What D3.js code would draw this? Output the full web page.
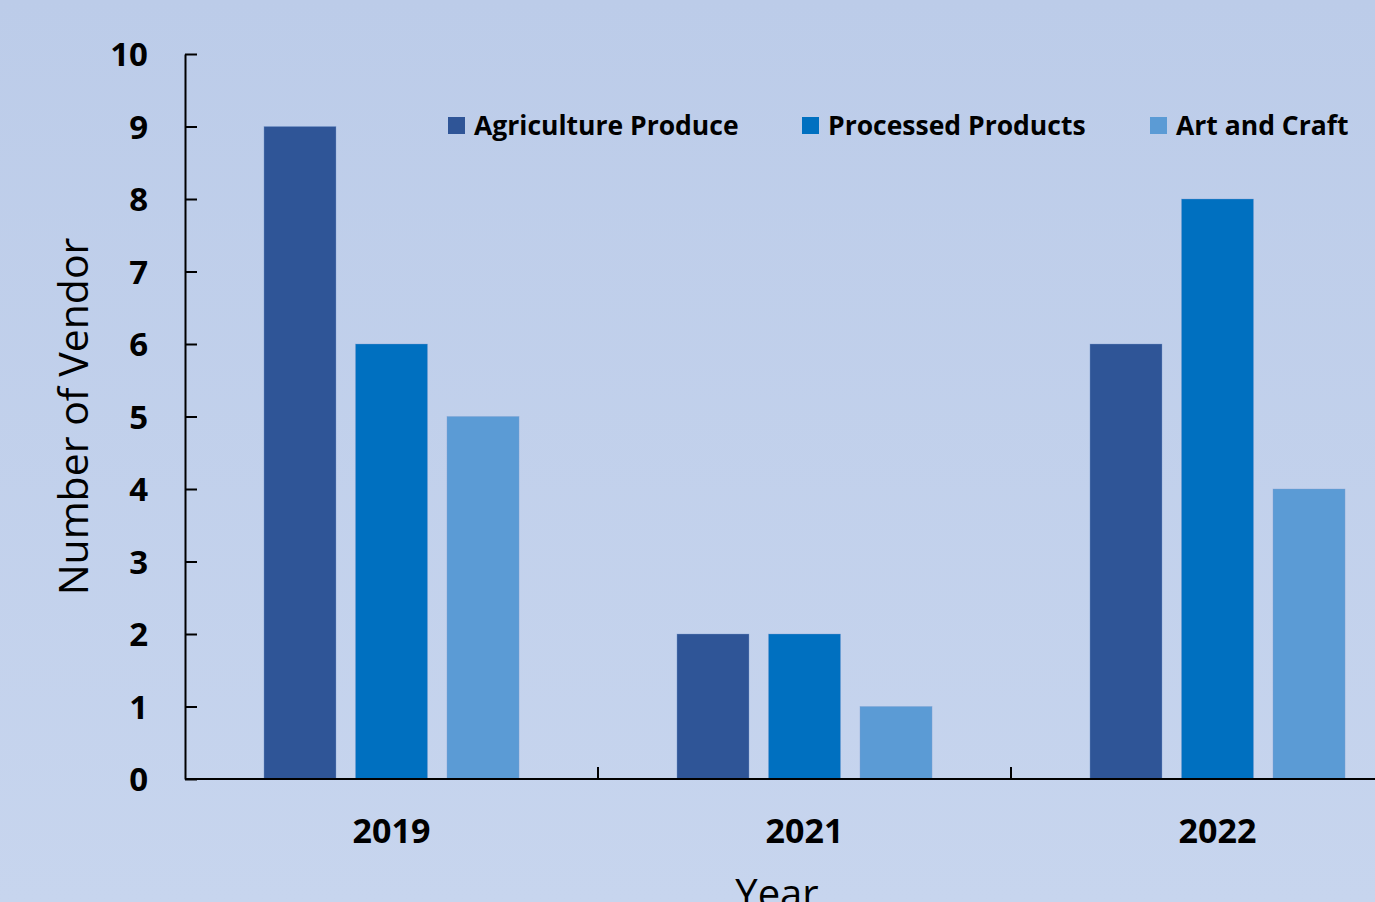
<!DOCTYPE html>
<html>
<head>
<meta charset="utf-8">
<script src="https://cdn.jsdelivr.net/npm/d3@7"></script>
<style>
  body {margin: 0; overflow: hidden;}
  text {font-family: "Open Sans", sans-serif; fill: #000;}
  .tick text {font-weight: 700; font-size: 33px;}
</style>
</head>
<body>
<script>
  // data
  var years = ["2019", "2021", "2022"];
  var series = ["Agriculture Produce", "Processed Products", "Art and Craft"];
  var agriculture = [9, 2, 6];
  var processed = [6, 2, 8];
  var artCraft = [5, 1, 4];
  var colors = ["#2F5597", "#0070C0", "#5B9BD5"];
  var yTicks = [0, 1, 2, 3, 4, 5, 6, 7, 8, 9, 10];

  var width = 1375, height = 902;
  var margin = {left: 185, right: 1424, top: 54, bottom: 779};

  var svg = d3.select("body").append("svg")
    .attr("width", width)
    .attr("height", height);

  // background gradient
  var grad = svg.append("defs").append("linearGradient")
    .attr("id", "bg").attr("x1", 0).attr("y1", 0).attr("x2", 0).attr("y2", 1);
  grad.append("stop").attr("offset", "0%").attr("stop-color", "#bccce9");
  grad.append("stop").attr("offset", "100%").attr("stop-color", "#c7d5ee");
  svg.append("rect").attr("width", width).attr("height", height).attr("fill", "url(#bg)");

  var x0 = d3.scaleBand().domain(years).range([margin.left, margin.right]);
  var x1 = d3.scaleBand().domain(series).range([0, x0.bandwidth()])
    .paddingInner(0.213).paddingOuter(0.863);
  var y = d3.scaleLinear().domain([0, 10]).range([margin.bottom, margin.top]);

  var values = [agriculture, processed, artCraft];
  var rows = [];
  years.forEach(function (yr, i) {
    series.forEach(function (s, j) {
      rows.push({year: yr, series: s, value: values[j][i], color: colors[j]});
    });
  });

  // bars
  svg.append("g").selectAll("rect").data(rows).enter().append("rect")
    .attr("x", function (d) { return x0(d.year) + x1(d.series); })
    .attr("y", function (d) { return y(d.value); })
    .attr("width", x1.bandwidth())
    .attr("height", function (d) { return margin.bottom - y(d.value); })
    .attr("fill", function (d) { return d.color; })
    .attr("stroke", "#7f9fd0").attr("stroke-width", 0.6).attr("stroke-opacity", 0.6);

  // y axis
  var yAxis = d3.axisLeft(y).tickValues(yTicks).tickSizeInner(-12).tickSizeOuter(0).tickPadding(37);
  var gy = svg.append("g").attr("transform", "translate(" + margin.left + ",0)").call(yAxis);
  gy.selectAll("line, path").attr("stroke", "#000").attr("stroke-width", 2);
  gy.selectAll("text").attr("dy", "0.36em");

  // x axis
  var gx = svg.append("g");
  gx.append("line").attr("x1", margin.left).attr("x2", width).attr("y1", margin.bottom).attr("y2", margin.bottom)
    .attr("stroke", "#000").attr("stroke-width", 2);
  gx.selectAll(".xt").data(years.slice(1)).enter().append("line")
    .attr("x1", function (d) { return x0(d); }).attr("x2", function (d) { return x0(d); })
    .attr("y1", margin.bottom).attr("y2", margin.bottom - 12)
    .attr("stroke", "#000").attr("stroke-width", 2);
  gx.selectAll(".xl").data(years).enter().append("text")
    .attr("x", function (d) { return x0(d) + x0.bandwidth() / 2; })
    .attr("y", 843)
    .attr("text-anchor", "middle")
    .style("font-weight", 700).style("font-size", "34px")
    .text(function (d) { return d; });

  // axis titles
  svg.append("text")
    .attr("transform", "translate(88," + ((margin.top + margin.bottom) / 2) + ") rotate(-90)")
    .attr("text-anchor", "middle")
    .style("font-size", "41px")
    .text("Number of Vendor");
  svg.append("text")
    .attr("x", 777).attr("y", 908)
    .attr("text-anchor", "middle")
    .style("font-size", "40px")
    .text("Year");

  // legend
  var legendX = [448, 802, 1150];
  var lg = svg.append("g").selectAll("g").data(series).enter().append("g")
    .attr("transform", function (d, i) { return "translate(" + legendX[i] + ",117)"; });
  lg.append("rect").attr("width", 17).attr("height", 17)
    .attr("fill", function (d, i) { return colors[i]; });
  lg.append("text").attr("x", 26).attr("y", 18)
    .style("font-weight", 700).style("font-size", "26.5px")
    .text(function (d) { return d; });
</script>
</body>
</html>
